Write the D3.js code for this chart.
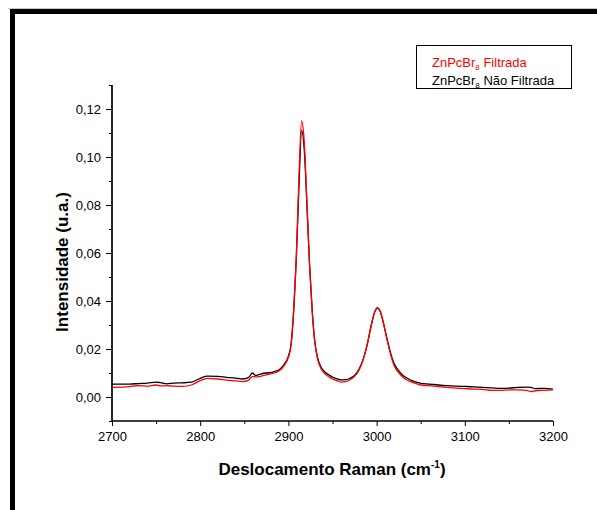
<!DOCTYPE html>
<html>
<head>
<meta charset="utf-8">
<script src="https://d3js.org/d3.v7.min.js"></script>
<style>
  body { margin: 0; background: #fff; font-family: Arial, "Liberation Sans", sans-serif; }
  svg text { font-family: Arial, "Liberation Sans", sans-serif; }
</style>
</head>
<body>
<div id="chart"></div>
<script>
// Raman shift (cm-1)
var ramanShift = [2700, 2710, 2720, 2730, 2740, 2750, 2755, 2762, 2770, 2780, 2790, 2800, 2808, 2820, 2830, 2840, 2848, 2855, 2859, 2863,
                  2867, 2872, 2878, 2884, 2890, 2895, 2900, 2903, 2906, 2909, 2912, 2915, 2918, 2921, 2924, 2927, 2930, 2933, 2937, 2941,
                  2946, 2950, 2955, 2960, 2965, 2970, 2975, 2980, 2985, 2990, 2994, 2998, 3001, 3004, 3008, 3012, 3016, 3020, 3025, 3030,
                  3035, 3040, 3045, 3050, 3060, 3070, 3080, 3090, 3100, 3110, 3120, 3130, 3140, 3150, 3160, 3170, 3175, 3180, 3190, 3200]

// ZnPcBr8 Não Filtrada (black)
var naoFiltrada = [0.0054, 0.0054, 0.0054, 0.0056, 0.0058, 0.0062, 0.0060, 0.0055, 0.0058, 0.0059, 0.0062, 0.0078, 0.0087, 0.0086, 0.0082, 0.0079, 0.0075, 0.0082, 0.0100, 0.0090,
                   0.0094, 0.0099, 0.0101, 0.0106, 0.0115, 0.0135, 0.0170, 0.0220, 0.0360, 0.0580, 0.0880, 0.1110, 0.1030, 0.0800, 0.0550, 0.0360, 0.0230, 0.0165, 0.0125, 0.0105,
                   0.0092, 0.0083, 0.0076, 0.0071, 0.0072, 0.0078, 0.0090, 0.0115, 0.0160, 0.0230, 0.0300, 0.0355, 0.0370, 0.0357, 0.0305, 0.0240, 0.0182, 0.0138, 0.0110, 0.0090,
                   0.0078, 0.0068, 0.0062, 0.0057, 0.0054, 0.0050, 0.0047, 0.0045, 0.0044, 0.0042, 0.0040, 0.0038, 0.0036, 0.0037, 0.0040, 0.0041, 0.0040, 0.0035, 0.0036, 0.0033]

// ZnPcBr8 Filtrada (red)
var filtrada = [0.0040, 0.0041, 0.0043, 0.0048, 0.0045, 0.0050, 0.0046, 0.0047, 0.0045, 0.0044, 0.0050, 0.0068, 0.0078, 0.0075, 0.0070, 0.0067, 0.0064, 0.0070, 0.0085, 0.0084,
                0.0085, 0.0090, 0.0095, 0.0100, 0.0110, 0.0130, 0.0165, 0.0215, 0.0360, 0.0590, 0.0920, 0.1150, 0.1060, 0.0810, 0.0550, 0.0355, 0.0225, 0.0160, 0.0118, 0.0098,
                0.0084, 0.0075, 0.0068, 0.0062, 0.0064, 0.0072, 0.0086, 0.0112, 0.0158, 0.0228, 0.0300, 0.0356, 0.0372, 0.0358, 0.0304, 0.0236, 0.0176, 0.0130, 0.0102, 0.0082,
                0.0070, 0.0062, 0.0056, 0.0050, 0.0047, 0.0043, 0.0040, 0.0037, 0.0035, 0.0033, 0.0032, 0.0028, 0.0028, 0.0030, 0.0030, 0.0028, 0.0022, 0.0026, 0.0028, 0.0030]

var xTicks = [2700, 2800, 2900, 3000, 3100, 3200]
var xMinorTicks = [2750, 2850, 2950, 3050, 3150]
var yTicks = [0.00, 0.02, 0.04, 0.06, 0.08, 0.10, 0.12]
var yMinorTicks = [-0.01, 0.01, 0.03, 0.05, 0.07, 0.09, 0.11, 0.13]

var width = 597, height = 510
var margin = { top: 85, right: 44, bottom: 89, left: 112 }

var svg = d3.select("#chart").append("svg")
    .attr("width", width)
    .attr("height", height)

// outer frame (cropped page border)
svg.append("line")
    .attr("x1", 8).attr("x2", width).attr("y1", 8.5).attr("y2", 8.5)
    .attr("stroke", "#c8c8c8").attr("stroke-width", 1)
svg.append("path")
    .attr("d", "M12.5," + height + "V11.5H" + width)
    .attr("fill", "none").attr("stroke", "#000").attr("stroke-width", 5)

var x = d3.scaleLinear().domain([2700, 3200]).range([margin.left, width - margin.right])
var y = d3.scaleLinear().domain([-0.01, 0.13]).range([height - margin.bottom, margin.top])

var fmtY = function(d) { return d3.format(".2f")(d).replace(".", ",") }

// x axis
var gx = svg.append("g").attr("transform", "translate(0," + y(-0.01) + ")")
gx.call(d3.axisBottom(x).tickValues(xTicks).tickSize(5).tickPadding(6).tickFormat(d3.format("d")))
gx.append("g").call(d3.axisBottom(x).tickValues(xMinorTicks).tickSize(3).tickFormat(""))
gx.selectAll(".domain").attr("d", "M" + x(2700) + ",0H" + x(3200))

// y axis
var gy = svg.append("g").attr("transform", "translate(" + x(2700) + ",0)")
gy.call(d3.axisLeft(y).tickValues(yTicks).tickSize(6).tickPadding(5).tickFormat(fmtY))
gy.append("g").call(d3.axisLeft(y).tickValues(yMinorTicks).tickSize(3).tickFormat(""))
gy.selectAll(".domain").attr("d", "M0," + y(0.13) + "V" + y(-0.01))

svg.selectAll(".tick text").attr("font-size", 13).attr("fill", "#000")
svg.selectAll(".tick line, .domain").attr("stroke", "#000")
svg.selectAll(".domain").attr("stroke-width", 1.2)

// curves
var line = d3.line()
    .x(function(d) { return x(d[0]) })
    .y(function(d) { return y(d[1]) })
    .curve(d3.curveMonotoneX)

svg.append("path")
    .datum(ramanShift.map(function(v, i) { return [v, naoFiltrada[i]] }))
    .attr("d", line)
    .attr("fill", "none").attr("stroke", "#000").attr("stroke-width", 1.3)

svg.append("path")
    .datum(ramanShift.map(function(v, i) { return [v, filtrada[i]] }))
    .attr("d", line)
    .attr("fill", "none").attr("stroke", "#ff0000").attr("stroke-width", 1.3)

// axis titles
var xt = svg.append("text")
    .attr("x", 332).attr("y", 475)
    .attr("text-anchor", "middle")
    .attr("font-size", 17).attr("font-weight", "bold")
xt.append("tspan").text("Deslocamento Raman (cm")
xt.append("tspan").text("-1").attr("font-size", 10).attr("dy", -7)
xt.append("tspan").text(")").attr("dy", 7)

svg.append("text")
    .attr("transform", "translate(68,262) rotate(-90)")
    .attr("text-anchor", "middle")
    .attr("font-size", 17).attr("font-weight", "bold")
    .text("Intensidade (u.a.)")

// legend
var legend = svg.append("g")
legend.append("rect")
    .attr("x", 416.5).attr("y", 45.5).attr("width", 155).attr("height", 43)
    .attr("fill", "#fff").attr("stroke", "#000").attr("stroke-width", 1)

var legendItems = ["Filtrada", "Não Filtrada"]
var legendColors = ["#ff0000", "#000000"]
legendItems.forEach(function(label, i) {
    var t = legend.append("text")
        .attr("x", 432).attr("y", 67 + i * 18)
        .attr("font-size", 13).attr("fill", legendColors[i])
    t.append("tspan").text("ZnPcBr")
    t.append("tspan").text("8").attr("font-size", 8).attr("dy", 3)
    t.append("tspan").text(" " + label).attr("dy", -3)
})
</script>
</body>
</html>
